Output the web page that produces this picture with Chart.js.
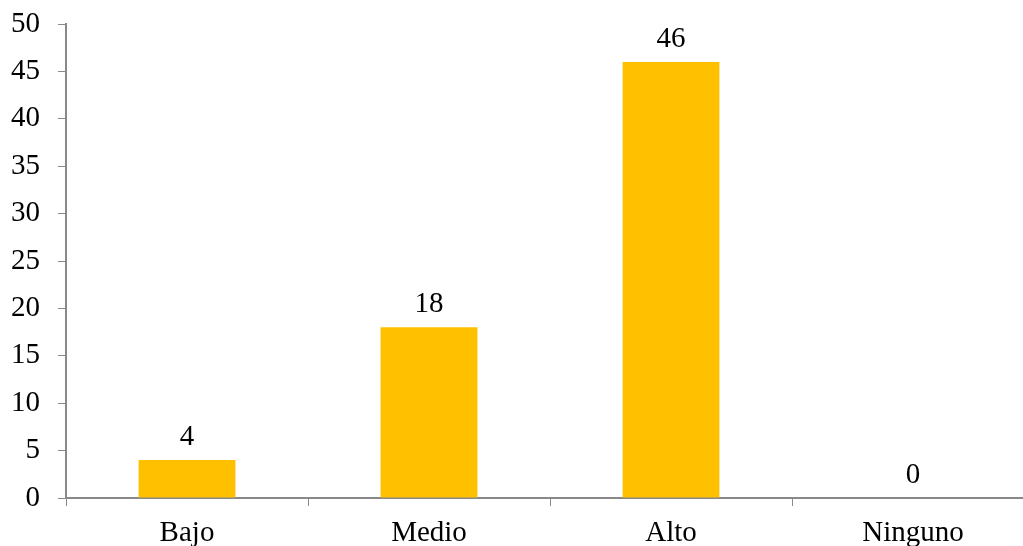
<!DOCTYPE html>
<html>
<head>
<meta charset="utf-8">
<script src="https://cdn.jsdelivr.net/npm/chart.js@4.4.1/dist/chart.umd.min.js"></script>
<style>
  html, body { margin: 0; padding: 0; background: #fff; overflow: hidden; }
  #wrap { width: 1034px; height: 546px; position: relative; }
</style>
</head>
<body>
<div id="wrap"><canvas id="nivelChart"></canvas></div>
<script>
const categories = ['Bajo', 'Medio', 'Alto', 'Ninguno'];
const values = [4, 18, 46, 0];
const yTicks = [0, 5, 10, 15, 20, 25, 30, 35, 40, 45, 50];

const axisColor = '#898989';
const font = { family: '"Liberation Serif", "Times New Roman", serif', size: 29 };

// value labels above each bar
const barLabels = {
  id: 'barLabels',
  afterDatasetsDraw(chart) {
    const ctx = chart.ctx;
    const meta = chart.getDatasetMeta(0);
    ctx.save();
    ctx.font = font.size + 'px ' + font.family;
    ctx.fillStyle = '#000';
    ctx.textAlign = 'center';
    ctx.textBaseline = 'alphabetic';
    meta.data.forEach((bar, i) => {
      ctx.fillText(String(values[i]), bar.x, bar.y - 15);
    });
    ctx.restore();
  }
};

const ctx = document.getElementById('nivelChart').getContext('2d');
new Chart(ctx, {
  type: 'bar',
  data: {
    labels: categories,
    datasets: [{
      data: values,
      backgroundColor: '#FFC000',
      borderWidth: 0,
      categoryPercentage: 1,
      barPercentage: 0.4
    }]
  },
  options: {
    responsive: true,
    maintainAspectRatio: false,
    animation: false,
    layout: { padding: { top: 24, right: 0, left: 0, bottom: 0 } },
    plugins: {
      legend: { display: false },
      tooltip: { enabled: false }
    },
    scales: {
      x: {
        grid: {
          offset: true,
          drawOnChartArea: false,
          drawTicks: true,
          tickLength: 8,
          color: axisColor
        },
        border: { color: axisColor, width: 2 },
        ticks: { color: '#000', font: font, padding: 10, maxRotation: 0 },
        afterFit(scale) { scale.height = 48; }
      },
      y: {
        min: 0,
        max: 50,
        afterBuildTicks(scale) { scale.ticks = yTicks.map(v => ({ value: v })); },
        grid: {
          drawOnChartArea: false,
          drawTicks: true,
          tickLength: 8,
          color: axisColor
        },
        border: { color: axisColor, width: 2 },
        ticks: { color: '#000', font: font, padding: 18 },
        afterFit(scale) {
          scale.width = 66;
          scale.paddingTop = 0;
          scale.paddingBottom = 0;
        }
      }
    }
  },
  plugins: [barLabels]
});
</script>
</body>
</html>
